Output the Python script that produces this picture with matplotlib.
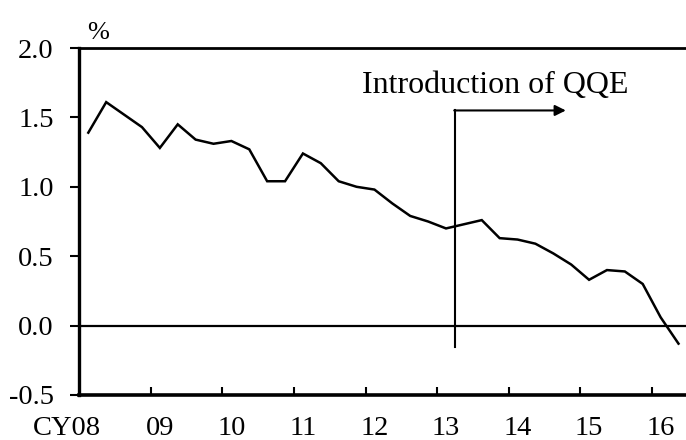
import matplotlib
matplotlib.use("Agg")
import matplotlib.pyplot as plt
import matplotlib.transforms as mtransforms
import numpy as np

plt.rcParams['font.family'] = ['Liberation Serif', 'DejaVu Serif']

# Quarterly values, 2008Q1 - 2016Q2 (%)
values = [1.39, 1.61, 1.52, 1.43, 1.28, 1.45, 1.34, 1.31,
          1.33, 1.27, 1.04, 1.04, 1.24, 1.17, 1.04, 1.00,
          0.98, 0.88, 0.79, 0.75, 0.70, 0.73, 0.76, 0.63,
          0.62, 0.59, 0.52, 0.44, 0.33, 0.40, 0.39, 0.30,
          0.06, -0.13]
start_year = 2008
year_labels = ["CY08", "09", "10", "11", "12", "13", "14", "15", "16"]
label_pos = [2008.0, 2009.125, 2010.125, 2011.125, 2012.125,
             2013.125, 2014.125, 2015.125, 2016.125]
year_ticks = list(range(2009, 2017))
y_ticks = [-0.5, 0.0, 0.5, 1.0, 1.5, 2.0]
qqe_x = 2013.25

x = start_year + (np.arange(len(values)) + 0.5) / 4

fig = plt.figure(figsize=(6.86, 4.40), dpi=100)
ax = fig.add_axes([0.1157, 0.1023, 0.8843, 0.7886])

ax.plot(x, values, color="black", lw=1.8, solid_joinstyle="miter")
ax.axhline(0, color="black", lw=1.6)

# QQE marker line and arrow
ax.plot([qqe_x, qqe_x], [-0.155, 1.55], color="black", lw=1.5)
ax.annotate("", xy=(2014.8, 1.55), xytext=(qqe_x - 0.01, 1.55),
            arrowprops=dict(arrowstyle="-|>", color="black", lw=1.5,
                            mutation_scale=16, shrinkA=0, shrinkB=0))
ax.text(2013.81, 1.73, "Introduction of QQE", ha="center", va="center",
        fontsize=23)

ax.set_xlim(2008, 2016.48)
ax.set_ylim(-0.5, 2.0)

ax.set_yticks(y_ticks)
ax.set_yticklabels([f"{v:.1f}" for v in y_ticks], fontsize=20.5)
ax.tick_params(axis="y", direction="out", length=6.5, width=1.5, pad=12)

ax.set_xticks(label_pos)
ax.set_xticklabels(year_labels, fontsize=20.5)
ax.set_xticks(year_ticks, minor=True)
ax.tick_params(axis="x", which="major", length=0, pad=15)
ax.tick_params(axis="x", which="minor", direction="in", length=6, width=1.5)

# CY08 label sits left of the axis start
first = ax.get_xticklabels()[0]
first.set_transform(first.get_transform() +
                    mtransforms.ScaledTranslation(-0.12, 0, fig.dpi_scale_trans))

ax.spines["right"].set_visible(False)
ax.spines["left"].set_linewidth(2.4)
ax.spines["bottom"].set_linewidth(2.6)
ax.spines["top"].set_linewidth(2.0)

fig.text(98 / 686, 1 - 33 / 440, "%", ha="center", va="center", fontsize=19)

fig.savefig("out.png", dpi=100)
